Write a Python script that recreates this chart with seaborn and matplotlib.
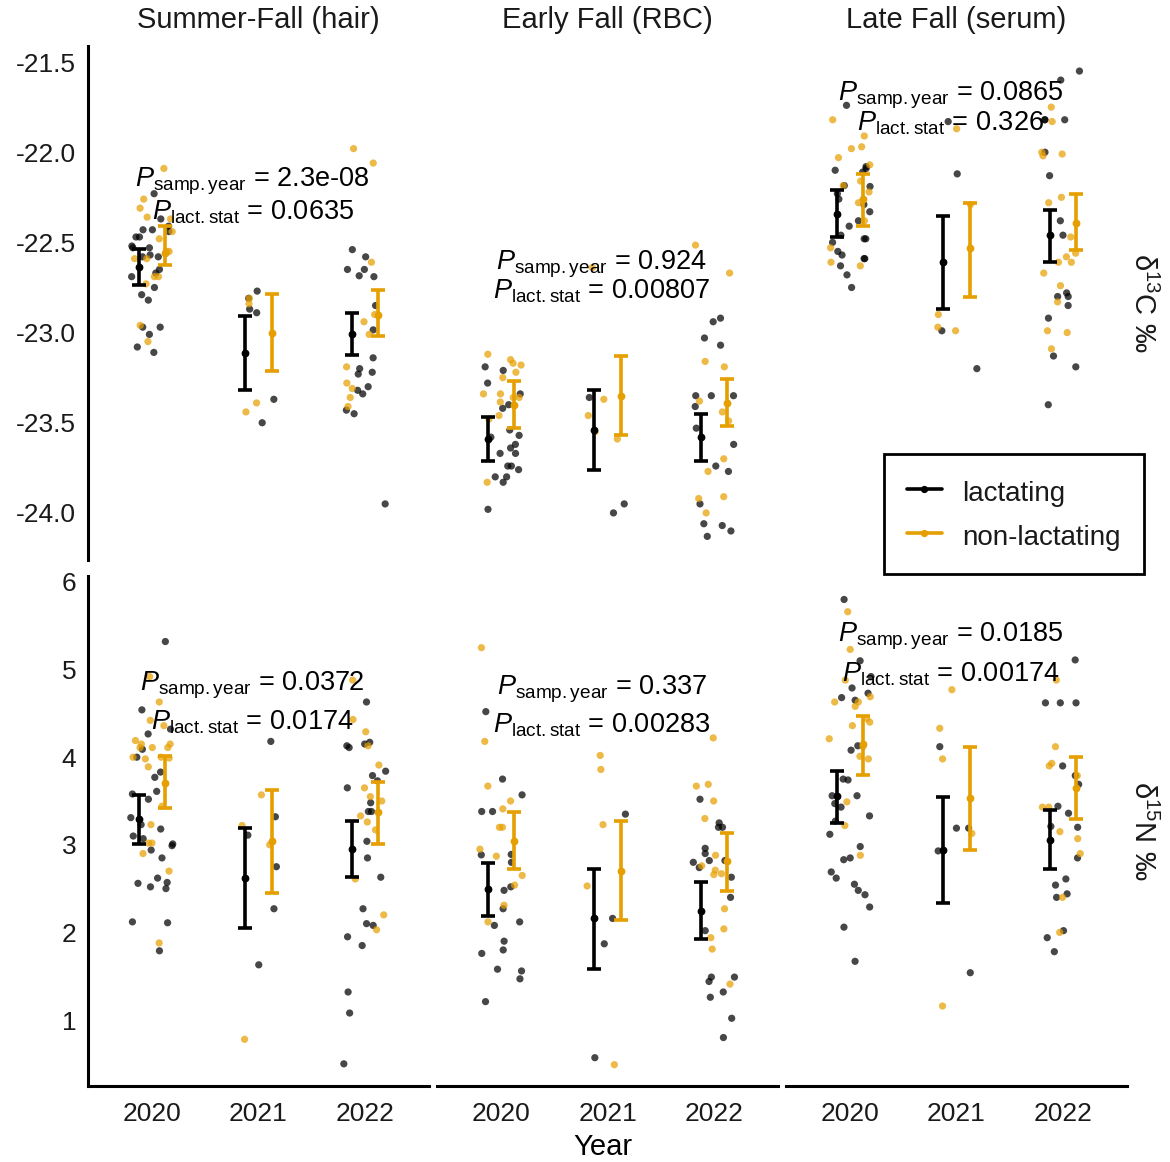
import numpy as np
import pandas as pd
import matplotlib
matplotlib.use("Agg")
import matplotlib.pyplot as plt
import seaborn as sns
from matplotlib.lines import Line2D

# ---------------- data ----------------
YEARS = ["2020", "2021", "2022"]
GROUPS = ["lactating", "non-lactating"]
COLORS = {"lactating": "#000000", "non-lactating": "#E69F00"}
TISSUES = ["Summer-Fall (hair)", "Early Fall (RBC)", "Late Fall (serum)"]
ISOTOPES = [r"δ$^{13}$C ‰", r"δ$^{15}$N ‰"]

# individual observations: {group: [2020, 2021, 2022]}
hair_c13 = {
    "lactating": [
        [-22.23, -22.37, -22.43, -22.43, -22.41, -22.44, -22.47, -22.47, -22.53, -22.53, -22.52, -22.57, -22.58,
         -22.58, -22.65, -22.67, -22.69, -22.75, -22.79, -22.82, -22.97, -22.97, -23.01, -23.08, -23.11],
        [-22.77, -22.81, -22.87, -22.89, -23.37, -23.50],
        [-22.54, -22.58, -22.65, -22.65, -22.685, -22.69, -22.85, -22.985, -23.14, -23.20, -23.22, -23.23, -23.30,
         -23.32, -23.34, -23.43, -23.45, -23.95],
    ],
    "non-lactating": [
        [-22.09, -22.26, -22.31, -22.36, -22.37, -22.44, -22.48, -22.55, -22.55, -22.59, -22.59, -22.69, -22.69,
         -22.73, -22.96, -23.05],
        [-22.81, -22.84, -23.39, -23.44],
        [-21.98, -22.06, -22.61, -22.90, -22.94, -23.01, -23.19, -23.28, -23.31, -23.36, -23.41],
    ],
}
rbc_c13 = {
    "lactating": [
        [-23.19, -23.21, -23.28, -23.34, -23.40, -23.42, -23.54, -23.58, -23.57, -23.62, -23.64, -23.67, -23.67,
         -23.74, -23.74, -23.76, -23.80, -23.80, -23.83, -23.98],
        [-23.36, -23.95, -24.00],
        [-22.92, -22.94, -23.03, -23.07, -23.35, -23.35, -23.35, -23.41, -23.53, -23.62, -23.74, -23.77, -23.95,
         -24.06, -24.07, -24.10, -24.13],
    ],
    "non-lactating": [
        [-23.12, -23.15, -23.17, -23.18, -23.22, -23.25, -23.34, -23.34, -23.36, -23.36, -23.385, -23.46, -23.48,
         -23.83],
        [-22.64, -23.37, -23.46, -23.55, -23.59],
        [-22.515, -22.67, -23.16, -23.19, -23.38, -23.44, -23.49, -23.70, -23.77, -23.91, -23.92, -24.00],
    ],
}
serum_c13 = {
    "lactating": [
        [-21.74, -22.08, -22.10, -22.09, -22.11, -22.19, -22.185, -22.23, -22.26, -22.29, -22.33, -22.38, -22.41,
         -22.46, -22.48, -22.48, -22.50, -22.55, -22.59, -22.59, -22.57, -22.63, -22.68, -22.75],
        [-21.83, -22.12, -22.99, -23.20],
        [-21.55, -21.60, -21.82, -21.82, -21.82, -22.00, -22.13, -22.38, -22.46, -22.78, -22.80, -22.80, -22.85,
         -22.92, -23.13, -23.19, -23.40],
    ],
    "non-lactating": [
        [-21.82, -21.91, -21.98, -21.97, -22.03, -22.07, -22.16, -22.185, -22.22, -22.28, -22.38, -22.53, -22.61,
         -22.63],
        [-21.87, -22.29, -22.90, -22.99, -22.97],
        [-21.75, -21.83, -22.01, -22.00, -22.02, -22.25, -22.28, -22.47, -22.56, -22.58, -22.61, -22.61, -22.67,
         -22.74, -22.83, -23.00, -22.99, -23.09],
    ],
}
hair_n15 = {
    "lactating": [
        [5.32, 4.54, 4.265, 4.32, 4.09, 4.00, 3.83, 3.77, 3.61, 3.58, 3.52, 3.31, 3.23, 3.18, 3.10, 3.07, 3.01,
         2.99, 2.94, 2.85, 2.62, 2.52, 2.57, 2.56, 2.50, 2.12, 2.11, 1.79],
        [4.18, 3.32, 3.11, 2.75, 2.27, 1.63],
        [4.63, 4.11, 4.13, 4.17, 4.15, 3.79, 3.73, 3.84, 3.65, 3.48, 3.38, 3.38, 3.04, 2.85, 2.63, 2.27, 2.10,
         2.08, 1.95, 1.85, 1.32, 1.08, 0.50],
    ],
    "non-lactating": [
        [4.92, 4.63, 4.42, 4.36, 4.19, 4.11, 4.11, 4.15, 4.11, 4.15, 3.99, 3.98, 4.00, 4.00, 3.89, 3.44, 3.23,
         3.02, 3.02, 2.90, 2.70, 1.88],
        [3.57, 3.22, 3.00, 0.78],
        [4.88, 4.43, 4.29, 4.13, 3.91, 3.65, 3.50, 3.33, 3.17, 3.26, 3.55, 2.61, 2.20, 2.03],
    ],
}
rbc_n15 = {
    "lactating": [
        [4.52, 3.75, 3.57, 3.38, 3.38, 2.89, 2.885, 2.80, 2.48, 2.52, 2.27, 2.12, 2.08, 1.90, 1.76, 1.80, 1.58,
         1.56, 1.47, 1.21],
        [3.35, 1.87, 2.16, 0.57],
        [3.52, 3.20, 3.25, 3.20, 2.96, 2.90, 2.82, 2.82, 2.74, 2.63, 2.80, 2.40, 2.02, 1.44, 1.49, 1.49, 1.32,
         1.26, 1.02, 0.80],
    ],
    "non-lactating": [
        [5.25, 4.18, 3.67, 3.50, 3.41, 3.20, 3.20, 2.95, 2.87, 2.65, 2.54, 2.31, 2.12],
        [4.02, 3.86, 3.23, 2.53, 0.49],
        [4.22, 3.67, 3.69, 3.50, 3.30, 2.88, 2.76, 2.66, 2.71, 2.67, 2.27, 2.04, 1.94, 1.81, 1.41],
    ],
}
serum_n15 = {
    "lactating": [
        [5.80, 5.10, 4.92, 4.73, 4.79, 4.68, 4.65, 4.13, 4.08, 3.75, 3.74, 3.56, 3.43, 3.47, 3.56, 3.33, 3.27,
         3.12, 2.98, 2.83, 2.85, 2.69, 2.62, 2.48, 2.55, 2.43, 2.29, 2.06, 1.67],
        [4.12, 3.19, 3.19, 2.93, 1.54],
        [5.11, 4.62, 4.62, 4.62, 3.79, 3.90, 3.69, 3.44, 3.36, 3.21, 3.20, 2.85, 2.61, 2.54, 2.40, 2.44, 1.94,
         2.02, 1.78],
    ],
    "non-lactating": [
        [5.66, 5.23, 4.88, 4.69, 4.58, 4.63, 4.63, 4.40, 4.44, 4.36, 4.21, 4.12, 3.98, 4.01, 3.49, 3.22, 2.88],
        [4.77, 4.33, 3.98, 3.13, 1.16],
        [4.88, 4.12, 3.79, 3.90, 3.93, 3.43, 3.43, 3.15, 3.07, 2.90, 2.40, 2.00],
    ],
}

# estimated means with error limits: {group: (mean, lower, upper)} per year
hair_c13_est = {"lactating": ([-22.635, -23.115, -23.01], [-22.737, -23.32, -23.126], [-22.537, -22.907, -22.894]),
                "non-lactating": ([-22.556, -23.0, -22.90], [-22.626, -23.213, -23.02], [-22.41, -22.787, -22.763])}
rbc_c13_est = {"lactating": ([-23.59, -23.54, -23.58], [-23.71, -23.76, -23.71], [-23.47, -23.32, -23.45]),
               "non-lactating": ([-23.40, -23.35, -23.39], [-23.53, -23.57, -23.52], [-23.27, -23.13, -23.255])}
serum_c13_est = {"lactating": ([-22.34, -22.61, -22.46], [-22.47, -22.87, -22.61], [-22.21, -22.355, -22.32]),
                 "non-lactating": ([-22.26, -22.53, -22.39], [-22.41, -22.80, -22.54], [-22.12, -22.28, -22.23])}
hair_n15_est = {"lactating": ([3.30, 2.62, 2.95], [3.01, 2.05, 2.63], [3.57, 3.19, 3.27]),
                "non-lactating": ([3.71, 3.04, 3.38], [3.42, 2.45, 3.01], [4.01, 3.63, 3.72])}
rbc_n15_est = {"lactating": ([2.49, 2.16, 2.25], [2.19, 1.58, 1.93], [2.79, 2.72, 2.57]),
               "non-lactating": ([3.04, 2.70, 2.81], [2.72, 2.14, 2.47], [3.37, 3.27, 3.14])}
serum_n15_est = {"lactating": ([3.56, 2.94, 3.05], [3.25, 2.34, 2.72], [3.84, 3.54, 3.40]),
                 "non-lactating": ([4.15, 3.53, 3.65], [3.80, 2.94, 3.29], [4.47, 4.12, 4.00])}

# p-values: (samp.year, lact.stat) and label heights
p_samp_year = [["2.3e-08", "0.924", "0.0865"], ["0.0372", "0.337", "0.0185"]]
p_lact_stat = [["0.0635", "0.00807", "0.326"], ["0.0174", "0.00283", "0.00174"]]
p_label_y = [[(-22.19, -22.375), (-22.651, -22.812), (-21.712, -21.880)],
             [(4.765, 4.313), (4.714, 4.281), (5.315, 4.863)]]

DATA = [[hair_c13, rbc_c13, serum_c13], [hair_n15, rbc_n15, serum_n15]]
EST = [[hair_c13_est, rbc_c13_est, serum_c13_est], [hair_n15_est, rbc_n15_est, serum_n15_est]]
YLIMS = [(-24.261, -21.411), (0.247, 6.068)]
YTICKS = [[-24.0, -23.5, -23.0, -22.5, -22.0, -21.5], [1, 2, 3, 4, 5, 6]]

# ---------------- style ----------------
sns.set_theme(style="white")
plt.rcParams["font.family"] = ["Liberation Sans", "DejaVu Sans"]
plt.rcParams["mathtext.fontset"] = "custom"
plt.rcParams["mathtext.rm"] = "Liberation Sans"
plt.rcParams["mathtext.it"] = "Liberation Sans:italic"
plt.rcParams["mathtext.bf"] = "Liberation Sans:bold"
plt.rcParams["axes.unicode_minus"] = False

W, H = 1170, 1162
fig = plt.figure(figsize=(W / 100, H / 100), dpi=100)
fig.patch.set_facecolor("white")

col_left = [88, 437, 786]
col_w = 341
row_span = [(46, 560), (576, 1086)]
TXT = "#1a1a1a"
np.random.seed(3)

for r in range(2):
    y0, y1 = row_span[r]
    for c in range(3):
        x0 = col_left[c]
        ax = fig.add_axes([x0 / W, 1 - y1 / H, col_w / W, (y1 - y0) / H])
        d = DATA[r][c]
        rows = []
        for g in GROUPS:
            for yi, yr in enumerate(YEARS):
                for v in d[g][yi]:
                    rows.append((yr, g, v))
        df = pd.DataFrame(rows, columns=["Year", "status", "value"])
        sns.stripplot(data=df, x="Year", y="value", hue="status", order=YEARS, hue_order=GROUPS,
                      palette=COLORS, jitter=0.2, dodge=False, size=5.2, alpha=0.72, linewidth=0,
                      legend=False, ax=ax, zorder=2)
        est = EST[r][c]
        for gi, g in enumerate(GROUPS):
            m, lo, hi = (np.array(a) for a in est[g])
            xs = np.arange(len(YEARS)) + (-0.125 if gi == 0 else 0.125)
            ax.errorbar(xs, m, yerr=[m - lo, hi - m], fmt="o", color=COLORS[g], ms=4.6,
                        elinewidth=2.6, capsize=4.8, capthick=2.6, zorder=5)
        ax.set_xlim(-0.6, 2.6)
        ax.set_ylim(*YLIMS[r])
        ax.set_xlabel("")
        ax.set_ylabel("")
        for s in ax.spines.values():
            s.set_visible(False)
            s.set_linewidth(2.2)
            s.set_color("black")
        ax.tick_params(axis="both", length=4.5, width=1.5, color="black", labelsize=19, labelcolor=TXT, pad=4)
        ax.tick_params(axis="x", pad=7)
        if c == 0:
            ax.spines["left"].set_visible(True)
            ax.set_yticks(YTICKS[r])
            ax.set_yticklabels([f"{t:g}" if r == 1 else f"{t:.1f}" for t in YTICKS[r]])
        else:
            ax.set_yticks([])
        if r == 1:
            ax.spines["bottom"].set_visible(True)
        else:
            ax.set_xticks([])
        ax.patch.set_alpha(0)
        # p-value labels
        ya, yb = p_label_y[r][c]
        ax.text(0.945, ya, r"$\mathit{P}_{\mathrm{samp.year}}$ = " + p_samp_year[r][c], ha="center",
                va="baseline", fontsize=19.5, color="black", zorder=6)
        ax.text(0.945, yb, r"$\mathit{P}_{\mathrm{lact.stat}}$ = " + p_lact_stat[r][c], ha="center",
                va="baseline", fontsize=19.5, color="black", zorder=6)
        if r == 0:
            fig.text((x0 + col_w / 2) / W, 1 - 20 / H, TISSUES[c], ha="center", va="center",
                     fontsize=21, color=TXT)
    fig.text(1143 / W, 1 - ((y0 + y1) / 2) / H, ISOTOPES[r], rotation=-90, ha="center", va="center",
             fontsize=21, color=TXT)

fig.text(603 / W, 1 - 1147 / H, "Year", ha="center", va="center", fontsize=21, color="black")

handles = [Line2D([], [], color=COLORS[g], marker="o", ms=4.2, lw=2.6) for g in GROUPS]
leg = fig.legend(handles, GROUPS, loc="upper left", bbox_to_anchor=(884 / W, 1 - 454 / H),
                 bbox_transform=fig.transFigure, frameon=True, fancybox=False, edgecolor="black",
                 fontsize=20, borderpad=0.82, borderaxespad=0, handlelength=1.25, handletextpad=0.75,
                 handleheight=1.3, labelspacing=0.48, framealpha=1)
leg.get_frame().set_linewidth(2)
for t in leg.get_texts():
    t.set_color(TXT)

fig.savefig("out.png", dpi=100, facecolor="white")
